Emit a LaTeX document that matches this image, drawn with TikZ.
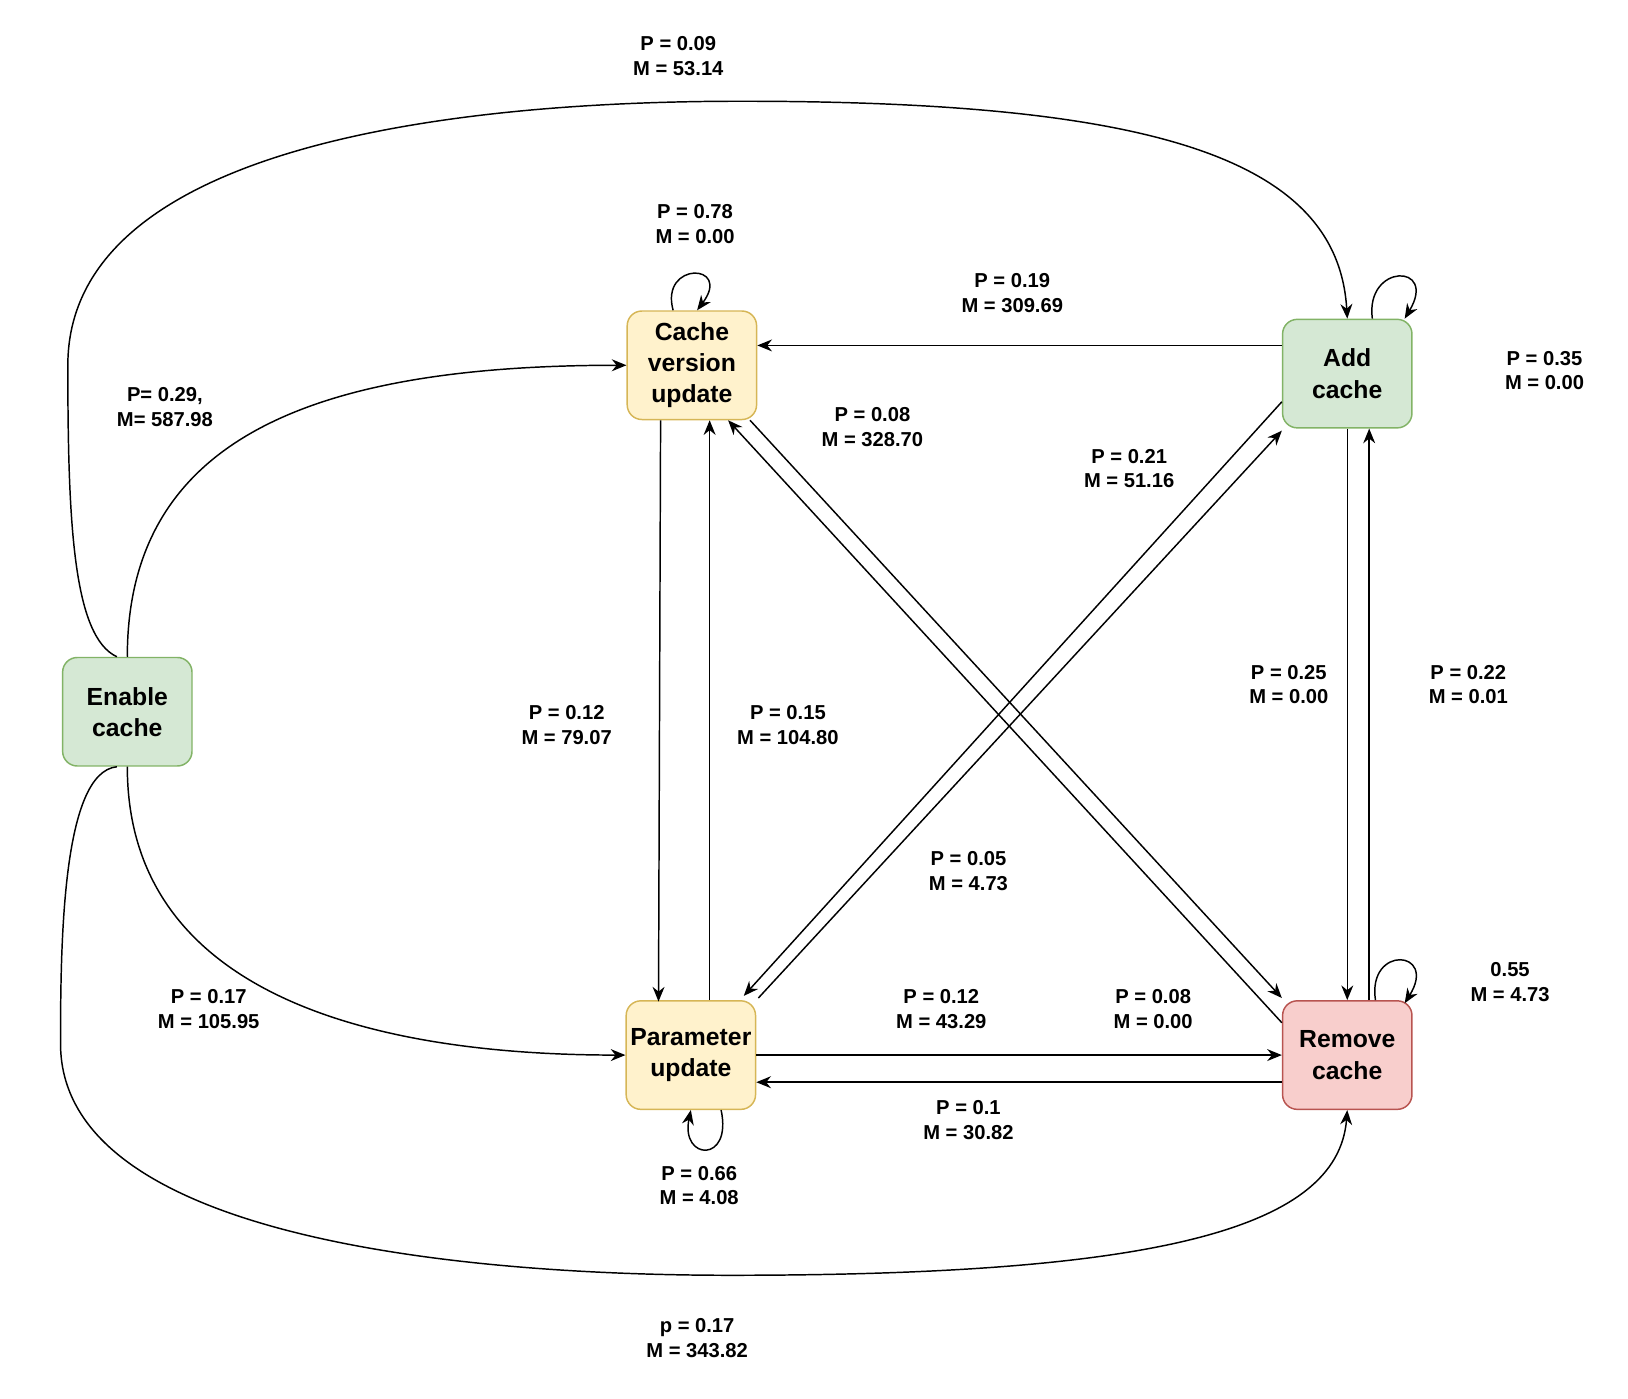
\documentclass[tikz,border=0pt]{standalone}
\usepackage{fontspec}
\setmainfont{Liberation Sans}
\usetikzlibrary{arrows.meta, calc}
\definecolor{gfill}{HTML}{D5E8D4}\definecolor{gline}{HTML}{82B366}
\definecolor{yfill}{HTML}{FFF2CC}\definecolor{yline}{HTML}{D6B656}
\definecolor{rfill}{HTML}{F8CECC}\definecolor{rline}{HTML}{B85450}
\tikzset{
  box/.style={rounded corners=8pt, line width=0.8pt, minimum width=2.48cm, minimum height=2.08cm,
    align=center, inner sep=1pt, font=\fontsize{13.5}{17}\selectfont\bfseries},
  green box/.style={box, fill=gfill, draw=gline},
  yellow box/.style={box, fill=yfill, draw=yline},
  red box/.style={box, fill=rfill, draw=rline},
  lbl/.style={align=center, font=\fontsize{11}{13.5}\selectfont\bfseries},
  link/.style={-{Stealth[length=8pt,width=6.5pt]}, line width=0.8pt},
}
\begin{document}
\begin{tikzpicture}[x=0.02cm, y=-0.02cm]
  \useasboundingbox (0,0) rectangle (1560,1340);

  % states
  \node[green box] (enable) at (122,682) {Enable\\cache};
  \node[yellow box] (cvu) at (663,350) {Cache\\version\\update};
  \node[green box] (add) at (1291,358) {Add\\cache};
  \node[yellow box] (param) at (662,1011) {Parameter\\update};
  \node[red box] (remove) at (1291,1011) {Remove\\cache};

  % long curves from Enable cache
  \draw[link] ($(enable.north)+(-10,0)$) .. controls (70,610) and (65,500) .. (65,350)
     .. controls (65,150) and (400,97) .. (710,97) .. controls (1100,97) and (1282,150) .. (add.north);
  \draw[link] (enable.north) .. controls (122,420) and (300,350) .. (cvu.west);
  \draw[link] (enable.south) .. controls (122,950) and (350,1011) .. (param.west);
  \draw[link] ($(enable.south)+(-10,0)$) .. controls (60,740) and (58,900) .. (58,1000)
     .. controls (58,1200) and (500,1222) .. (700,1222) .. controls (1100,1222) and (1282,1180) .. (remove.south);

  % straight links
  \draw[link] ($(add.west)+(0,-27)$) -- ($(cvu.east)+(0,-19)$);
  \draw[link] ($(cvu.south)+(-30,0)$) -- ($(param.south)+(-31,-104)$);
  \draw[link] ($(param.north)+(18,0)$) -- ($(cvu.south)+(17,0)$);
  \draw[link] ($(cvu.south east)+(-7,0)$) -- ($(remove.north west)+(0,-2)$);
  \draw[link] ($(remove.west)+(0,-31)$) -- ($(cvu.south east)+(-28,0)$);
  \draw[link] ($(add.west)+(0,27)$) -- ($(param.north east)+(-12,-4)$);
  \draw[link] ($(param.north east)+(2,-2)$) -- ($(add.south west)+(0,2)$);
  \draw[link] (add.south) -- (remove.north);
  \draw[link] ($(remove.north)+(21,0)$) -- ($(add.south)+(21,0)$);
  \draw[link] (param.east) -- (remove.west);
  \draw[link] ($(remove.west)+(0,26)$) -- ($(param.east)+(0,26)$);

  % self loops
  \draw[link] ($(cvu.north)+(-18,0)$) .. controls (632,250) and (702,252) .. ($(cvu.north)+(5,0)$);
  \draw[link] ($(add.north)+(24,0)$) .. controls (1308,252) and (1378,252) .. ($(add.north)+(55,0)$);
  \draw[link] ($(param.south)+(29,0)$) .. controls (702,1115) and (652,1112) .. (param.south);
  \draw[link] ($(remove.north)+(27,0)$) .. controls (1310,905) and (1378,910) .. ($(remove.north)+(55,3)$);

  % labels
  \node[lbl] (l1) at (650,54) {P = 0.09\\M = 53.14};
  \node[lbl] (l2) at (158,390) {P= 0.29,\\M= 587.98};
  \node[lbl] (l3) at (200,967) {P = 0.17\\M = 105.95};
  \node[lbl] (l4) at (668,1282) {p = 0.17\\M = 343.82};
  \node[lbl] (l5) at (970,281) {P = 0.19\\M = 309.69};
  \node[lbl] (l6) at (543,695) {P = 0.12\\M = 79.07};
  \node[lbl] (l7) at (755,695) {P = 0.15\\M = 104.80};
  \node[lbl] (l8) at (836,409) {P = 0.08\\M = 328.70};
  \node[lbl] (l9) at (928,835) {P = 0.05\\M = 4.73};
  \node[lbl] (l10) at (1082,449) {P = 0.21\\M = 51.16};
  \node[lbl] (l11) at (1235,656) {P = 0.25\\M = 0.00};
  \node[lbl] (l12) at (1407,656) {P = 0.22\\M = 0.01};
  \node[lbl] (l13) at (902,967) {P = 0.12\\M = 43.29};
  \node[lbl] (l14) at (1105,967) {P = 0.08\\M = 0.00};
  \node[lbl] (l15) at (928,1073) {P = 0.1\\M = 30.82};
  \node[lbl] (l16) at (666,215) {P = 0.78\\M = 0.00};
  \node[lbl] (l17) at (1480,355) {P = 0.35\\M = 0.00};
  \node[lbl] (l18) at (670,1136) {P = 0.66\\M = 4.08};
  \node[lbl] (l19) at (1447,941) {0.55\\M = 4.73};
\end{tikzpicture}
\end{document}
